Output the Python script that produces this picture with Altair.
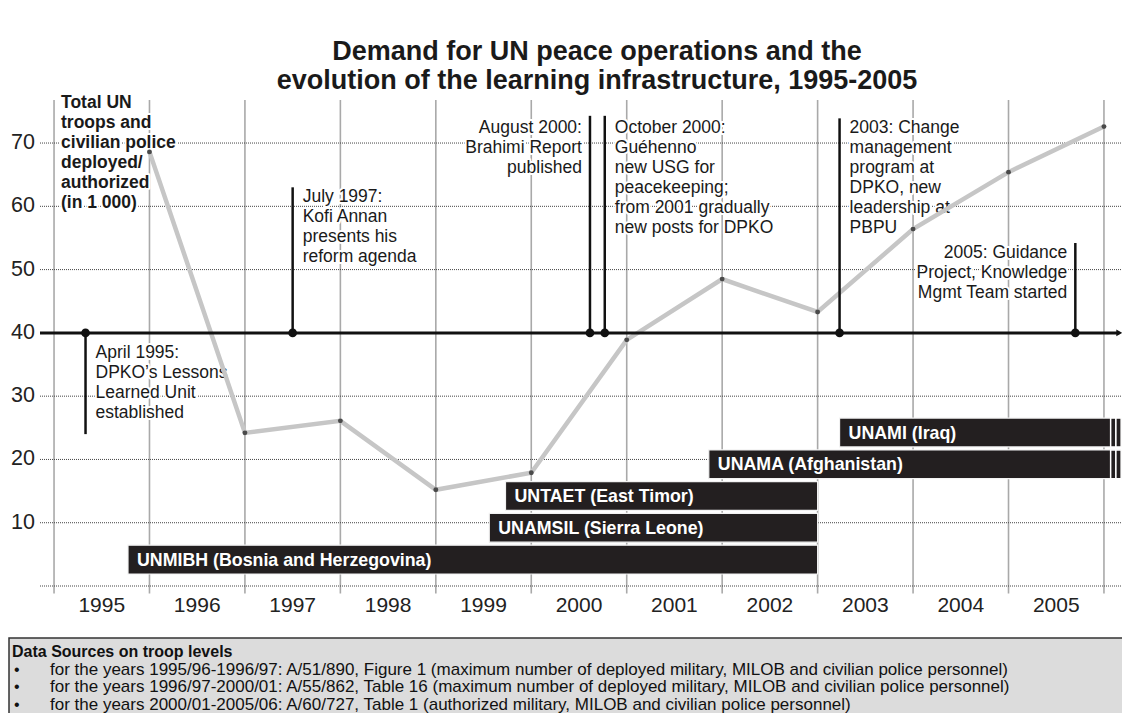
import altair as alt
import pandas as pd

FONT = "Liberation Sans"

# ---------------- data ----------------
fiscal_year_ends = [1996, 1997, 1998, 1999, 2000, 2001, 2002, 2003, 2004, 2005, 2006]
troops_thousands = [68.6, 24.2, 26.1, 15.2, 17.9, 38.9, 48.5, 43.3, 56.4, 65.4, 72.6]

year_labels = [1995, 1996, 1997, 1998, 1999, 2000, 2001, 2002, 2003, 2004, 2005]
year_boundaries = [1995, 1996, 1997, 1998, 1999, 2000, 2001, 2002, 2003, 2004, 2005, 2006]
y_tick_values = [10, 20, 30, 40, 50, 60, 70]
y_grid_values = [0, 10, 20, 30, 40, 50, 60, 70]

timeline_level = 40
event_dates = [1995.33, 1997.50, 2000.615, 2000.77, 2003.23, 2005.70]
event_line_ends = [24.0, 63.0, 74.3, 74.3, 73.9, 54.2]
event_texts = [
    "April 1995:\nDPKO\u2019s Lessons\nLearned Unit\nestablished",
    "July 1997:\nKofi Annan\npresents his\nreform agenda",
    "August 2000:\nBrahimi Report\npublished",
    "October 2000:\nGu\u00e9henno\nnew USG for\npeacekeeping;\nfrom 2001 gradually\nnew posts for DPKO",
    "2003: Change\nmanagement\nprogram at\nDPKO, new\nleadership at\nPBPU",
    "2005: Guidance\nProject, Knowledge\nMgmt Team started",
]
event_label_side = ["right", "right", "left", "right", "right", "left"]

mission_names = [
    "UNMIBH (Bosnia and Herzegovina)",
    "UNAMSIL (Sierra Leone)",
    "UNTAET (East Timor)",
    "UNAMA (Afghanistan)",
    "UNAMI (Iraq)",
]
mission_starts = [1995.775, 1999.56, 1999.73, 2001.86, 2003.23]
mission_ends = [2003.0, 2003.0, 2003.0, 2006.07, 2006.07]
mission_ongoing = [False, False, False, True, True]

y_note = "Total UN\ntroops and\ncivilian police\ndeployed/\nauthorized\n(in 1 000)"
chart_title = "Demand for UN peace operations and the\nevolution of the learning infrastructure, 1995-2005"
source_heading = "Data Sources on troop levels"
source_lines = [
    "for the years 1995/96-1996/97: A/51/890, Figure 1 (maximum number of deployed military, MILOB and civilian police personnel)",
    "for the years 1996/97-2000/01: A/55/862, Table 16 (maximum number of deployed military, MILOB and civilian police personnel)",
    "for the years 2000/01-2005/06: A/60/727, Table 1 (authorized military, MILOB and civilian police personnel)",
]

# ---------------- layout ----------------
X_MIN, X_MAX = 1994.853, 2006.189
Y_MAX = 76.8
W, H = 1082, 486
PAD = {"left": 32, "top": 92, "right": 0, "bottom": 127}
GRID_BOTTOM = -1.2
ARROW_END = 2006.16
BAR_BASE, BAR_STEP, BAR_H = 1.9, 5.02, 4.55
CONT_SEGMENTS = [(2006.07, 2006.125), (2006.125, 2006.18)]
event_label_y = [36.82, 61.47, 72.38, 72.38, 72.38, 52.62]
NOTE_Y = 76.33
YEAR_LABEL_Y = -3.1
LABEL_FS = 17.5
LINE_H = 20
FOOT_Y0, FOOT_STEP = 569.5, 17.5

xs = alt.Scale(domain=[X_MIN, X_MAX], nice=False, zero=False)
ys = alt.Scale(domain=[0, Y_MAX], nice=False, zero=False)


def X(f):
    return alt.X(f"{f}:Q", scale=xs, axis=None)


def Y(f):
    return alt.Y(f"{f}:Q", scale=ys, axis=None)


# vertical grid lines at year boundaries
vgrid = alt.Chart(pd.DataFrame({"x": year_boundaries})).transform_calculate(
    lo=str(GRID_BOTTOM), hi=str(Y_MAX)
).mark_rule(color="#a9a9a9", strokeWidth=1.6).encode(
    x=X("x"), y=Y("lo"), y2=alt.Y2("hi")
)

# horizontal dotted grid lines
hgrid = alt.Chart(pd.DataFrame({"y": y_grid_values})).transform_calculate(
    x0=str(X_MIN), x1=str(X_MAX)
).mark_rule(color="#444444", strokeWidth=1, strokeDash=[1, 1]).encode(
    y=Y("y"), x=X("x0"), x2=alt.X2("x1")
)

# y tick labels
ytick = alt.Chart(pd.DataFrame({"v": y_tick_values})).transform_calculate(
    x0=str(X_MIN)
).mark_text(
    font=FONT, fontSize=21.5, color="#222222", align="right", baseline="middle", dx=-5
).encode(x=X("x0"), y=Y("v"), text="v:N")

# year labels between grid lines
years_df = pd.DataFrame({"year": year_labels})
year_text = alt.Chart(years_df).transform_calculate(
    xm="datum.year + 0.5", yl=str(YEAR_LABEL_Y)
).mark_text(font=FONT, fontSize=21, color="#222222", baseline="middle").encode(
    x=X("xm"), y=Y("yl"), text="year:N"
)

# "Total UN troops ..." note with white halo
note_df = pd.DataFrame({"x": [1995.0], "y": [NOTE_Y], "t": [y_note]})
note_common = dict(
    font=FONT, fontSize=LABEL_FS, fontWeight="bold", align="left", dx=7,
    baseline="middle", lineBreak="\n", lineHeight=LINE_H,
)
note_halo = alt.Chart(note_df).mark_text(
    stroke="white", strokeWidth=4, strokeJoin="round", color="white", **note_common
).encode(x=X("x"), y=Y("y"), text="t:N")
note = alt.Chart(note_df).mark_text(color="#1a1a1a", **note_common).encode(
    x=X("x"), y=Y("y"), text="t:N"
)

# event labels
ev_df = pd.DataFrame({
    "date": event_dates,
    "end": event_line_ends,
    "text": event_texts,
    "side": event_label_side,
    "ly": event_label_y,
    "base": [timeline_level] * len(event_dates),
})


def event_text(side, halo):
    kw = dict(font=FONT, fontSize=LABEL_FS, lineBreak="\n", lineHeight=LINE_H,
              baseline="middle")
    if side == "right":
        kw.update(align="left", dx=10)
    else:
        kw.update(align="right", dx=-8)
    if halo:
        kw.update(stroke="white", strokeWidth=4, strokeJoin="round", color="white")
    else:
        kw.update(color="#1a1a1a")
    return alt.Chart(ev_df).transform_filter(
        alt.datum.side == side
    ).mark_text(**kw).encode(x=X("date"), y=Y("ly"), text="text:N")


# troop line
line_df = pd.DataFrame({"x": fiscal_year_ends, "troops": troops_thousands})
troop_line = alt.Chart(line_df).mark_line(
    color="#c6c6c6", strokeWidth=4.5
).encode(x=X("x"), y=Y("troops"))
troop_pts = alt.Chart(line_df).mark_circle(
    color="#4a4a4a", size=24, opacity=1
).encode(x=X("x"), y=Y("troops"))

# timeline
tl_df = pd.DataFrame({"x0": [X_MIN], "x1": [ARROW_END], "y": [timeline_level]})
timeline = alt.Chart(tl_df).mark_rule(color="#111111", strokeWidth=3).encode(
    x=X("x0"), x2=alt.X2("x1"), y=Y("y")
)
arrow = alt.Chart(tl_df).mark_point(
    shape="triangle-right", filled=True, color="#111111", size=45, opacity=1
).encode(x=X("x1"), y=Y("y"))

event_rules = alt.Chart(ev_df).mark_rule(color="#111111", strokeWidth=2.5).encode(
    x=X("date"), y=Y("base"), y2=alt.Y2("end")
)
event_dots = alt.Chart(ev_df).mark_circle(color="#111111", size=75, opacity=1).encode(
    x=X("date"), y=Y("base")
)

# mission bars
rows = list(range(len(mission_names)))
ms_df = pd.DataFrame({
    "name": mission_names,
    "start": mission_starts,
    "end": mission_ends,
    "row": rows,
    "ongoing": mission_ongoing,
})
ms_df["y0"] = BAR_BASE + BAR_STEP * ms_df["row"]
ms_df["y1"] = ms_df["y0"] + BAR_H
ms_df["yc"] = ms_df["y0"] + BAR_H / 2

cont_records = []
for _, r in ms_df[ms_df["ongoing"]].iterrows():
    for a, b in CONT_SEGMENTS:
        cont_records.append({"start": a, "end": b, "y0": r["y0"], "y1": r["y1"]})
cont_df = pd.DataFrame(cont_records)

bars = alt.Chart(ms_df).mark_rect(
    color="#231f20", stroke="#f2f2f2", strokeWidth=1.2
).encode(x=X("start"), x2=alt.X2("end"), y=Y("y0"), y2=alt.Y2("y1"))
cont_bars = alt.Chart(cont_df).mark_rect(
    color="#231f20", stroke="#ffffff", strokeWidth=1.5
).encode(x=X("start"), x2=alt.X2("end"), y=Y("y0"), y2=alt.Y2("y1"))
bar_text = alt.Chart(ms_df).mark_text(
    font=FONT, fontSize=17.8, fontWeight="bold", color="white",
    align="left", baseline="middle", dx=9, dy=1,
).encode(x=X("start"), y=Y("yc"), text="name:N")

# title (pixel-placed decoration)
one = pd.DataFrame({"k": [0]})
title = alt.Chart(one).mark_text(
    font=FONT, fontSize=27, fontWeight="bold", color="#1a1a1a", align="center",
    baseline="middle", lineBreak="\n", lineHeight=29,
).encode(x=alt.value(557), y=alt.value(-48.5), text=alt.value(chart_title))

# footer box with data sources
footer_box = alt.Chart(one).mark_rect(
    fill="#dcdcdc", stroke="#333333", strokeWidth=1.5
).encode(x=alt.value(-31), x2=alt.value(1100), y=alt.value(538), y2=alt.value(640))
footer_head = alt.Chart(one).mark_text(
    font=FONT, fontSize=16, fontWeight="bold", color="#111111", align="left",
    baseline="middle",
).encode(x=alt.value(-28), y=alt.value(552), text=alt.value(source_heading))
src_df = pd.DataFrame({"line": source_lines, "i": list(range(len(source_lines)))})
footer_bullets = alt.Chart(src_df).transform_calculate(
    py=f"{FOOT_Y0} + {FOOT_STEP} * datum.i", b="'\u2022'"
).mark_text(font=FONT, fontSize=16, color="#111111", align="left", baseline="middle").encode(
    x=alt.value(-26), y=alt.Y("py:Q", scale=None), text="b:N"
)
footer_text = alt.Chart(src_df).transform_calculate(
    py=f"{FOOT_Y0} + {FOOT_STEP} * datum.i"
).mark_text(font=FONT, fontSize=17, color="#111111", align="left", baseline="middle").encode(
    x=alt.value(10), y=alt.Y("py:Q", scale=None), text="line:N"
)

layers = [vgrid, hgrid, ytick, year_text, note_halo, note]
for side in ["right", "left"]:
    layers.append(event_text(side, True))
    layers.append(event_text(side, False))
layers += [
    troop_line, troop_pts, bars, cont_bars, bar_text,
    timeline, arrow, event_rules, event_dots,
    title, footer_box, footer_head, footer_bullets, footer_text,
]

chart = alt.layer(*layers).properties(
    width=W, height=H,
    autosize=alt.AutoSizeParams(type="none"),
    padding=PAD,
    background="white",
).configure_view(stroke=None)

chart.save("out.html", embed_options={"renderer": "svg", "actions": False})
